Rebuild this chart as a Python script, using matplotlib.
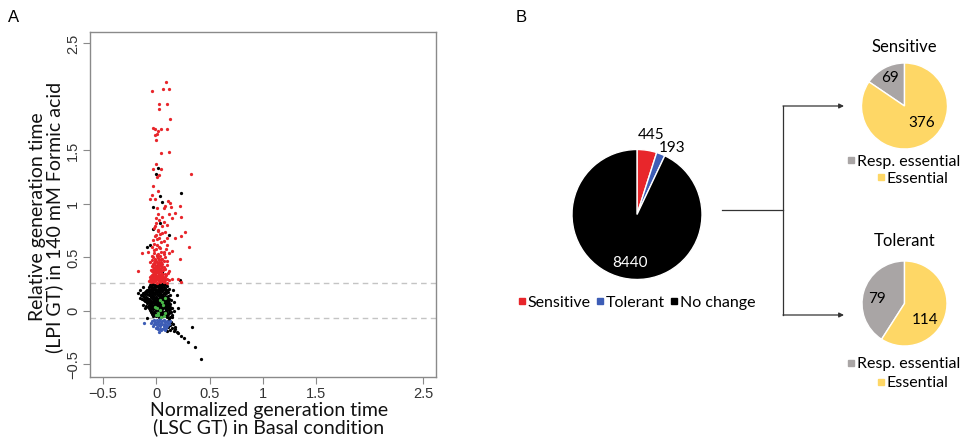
import numpy as np
import matplotlib
matplotlib.use("Agg")
import matplotlib.pyplot as plt
from matplotlib.lines import Line2D
from matplotlib.patches import FancyArrowPatch

# ---------------- data ----------------
# Panel A scatter (x: normalized GT basal, y: relative GT formic acid)
black_pts = [
    (-0.03, 0.25), (0.00, 0.245), (0.03, 0.255), (0.06, 0.25), (-0.06, 0.24), (0.09, 0.255),
    (-0.05, 0.23), (-0.02, 0.225), (0.01, 0.235), (0.04, 0.23), (0.07, 0.225), (0.10, 0.235),
    (-0.07, 0.21), (-0.04, 0.215), (-0.01, 0.205), (0.02, 0.21), (0.05, 0.215), (0.08, 0.205), (0.12, 0.21),
    (-0.09, 0.19), (-0.06, 0.185), (-0.03, 0.195), (0.00, 0.19), (0.03, 0.185), (0.06, 0.195), (0.09, 0.19),
    (-0.12, 0.17), (-0.08, 0.175), (-0.05, 0.165), (-0.02, 0.17), (0.01, 0.175), (0.04, 0.165), (0.07, 0.17), (0.11, 0.175),
    (-0.14, 0.15), (-0.10, 0.155), (-0.07, 0.145), (-0.04, 0.15), (-0.01, 0.155), (0.02, 0.145), (0.05, 0.15), (0.08, 0.155), (0.13, 0.145),
    (-0.11, 0.13), (-0.08, 0.125), (-0.05, 0.135), (-0.02, 0.13), (0.01, 0.125), (0.04, 0.135), (0.07, 0.13), (0.10, 0.125),
    (-0.13, 0.11), (-0.09, 0.115), (-0.06, 0.105), (-0.03, 0.11), (0.00, 0.115), (0.03, 0.105), (0.06, 0.11), (0.09, 0.115), (0.14, 0.105),
    (-0.10, 0.09), (-0.07, 0.095), (-0.04, 0.085), (-0.01, 0.09), (0.02, 0.095), (0.05, 0.085), (0.08, 0.09), (0.11, 0.095),
    (-0.08, 0.07), (-0.05, 0.065), (-0.02, 0.075), (0.01, 0.07), (0.04, 0.065), (0.07, 0.075), (0.10, 0.07), (0.13, 0.065),
    (-0.09, 0.05), (-0.06, 0.055), (-0.03, 0.045), (0.00, 0.05), (0.03, 0.055), (0.06, 0.045), (0.09, 0.05), (0.12, 0.055),
    (-0.07, 0.03), (-0.04, 0.025), (-0.01, 0.035), (0.02, 0.03), (0.05, 0.025), (0.08, 0.035), (0.11, 0.03), (0.15, 0.025),
    (-0.06, 0.01), (-0.03, 0.015), (0.00, 0.005), (0.03, 0.01), (0.06, 0.015), (0.09, 0.005), (0.12, 0.01),
    (-0.05, -0.01), (-0.02, -0.005), (0.01, -0.015), (0.04, -0.01), (0.07, -0.005), (0.10, -0.015), (0.14, -0.01),
    (-0.04, -0.03), (-0.01, -0.035), (0.02, -0.025), (0.05, -0.03), (0.08, -0.035), (0.11, -0.025),
    (-0.03, -0.05), (0.00, -0.045), (0.03, -0.055), (0.06, -0.05), (0.09, -0.045), (0.13, -0.055),
    (-0.045, 0.24), (-0.015, 0.245), (0.015, 0.24), (0.045, 0.235), (0.075, 0.245),
    (-0.065, 0.22), (-0.035, 0.215), (-0.005, 0.225), (0.025, 0.22), (0.055, 0.225), (0.085, 0.215),
    (-0.08, 0.20), (-0.05, 0.195), (-0.02, 0.205), (0.01, 0.20), (0.04, 0.195), (0.07, 0.205), (0.10, 0.20),
    (-0.10, 0.18), (-0.065, 0.185), (-0.035, 0.175), (-0.005, 0.18), (0.025, 0.175), (0.055, 0.185), (0.085, 0.18),
    (-0.12, 0.16), (-0.085, 0.155), (-0.055, 0.165), (-0.025, 0.16), (0.005, 0.155), (0.035, 0.165), (0.065, 0.16), (0.095, 0.165),
    (-0.125, 0.14), (-0.09, 0.135), (-0.06, 0.145), (-0.03, 0.14), (0.00, 0.135), (0.03, 0.145), (0.06, 0.14), (0.09, 0.135), (0.115, 0.14),
    (-0.095, 0.12), (-0.065, 0.115), (-0.035, 0.125), (-0.005, 0.12), (0.025, 0.115), (0.055, 0.125), (0.085, 0.12), (0.12, 0.115),
    (-0.115, 0.10), (-0.08, 0.105), (-0.05, 0.095), (-0.02, 0.10), (0.01, 0.105), (0.04, 0.095), (0.07, 0.10), (0.10, 0.105),
    (-0.085, 0.08), (-0.055, 0.075), (-0.025, 0.085), (0.005, 0.08), (0.035, 0.075), (0.065, 0.085), (0.095, 0.08), (0.125, 0.075),
    (-0.07, 0.06), (-0.04, 0.055), (-0.01, 0.065), (0.02, 0.06), (0.05, 0.055), (0.08, 0.065), (0.11, 0.06),
    (-0.075, 0.04), (-0.045, 0.035), (-0.015, 0.045), (0.015, 0.04), (0.045, 0.035), (0.075, 0.045), (0.105, 0.04), (0.135, 0.035),
    (-0.055, 0.02), (-0.025, 0.025), (0.005, 0.015), (0.035, 0.02), (0.065, 0.025), (0.095, 0.015), (0.13, 0.02),
    (-0.045, 0.00), (-0.015, -0.005), (0.015, 0.005), (0.045, 0.00), (0.075, -0.005), (0.105, 0.005),
    (-0.035, -0.02), (-0.005, -0.025), (0.025, -0.015), (0.055, -0.02), (0.085, -0.025), (0.12, -0.015),
    (-0.02, -0.04), (0.01, -0.035), (0.04, -0.045), (0.07, -0.04), (0.10, -0.035),
    (0.10, -0.06), (0.12, -0.065), (0.15, -0.06),
    (0.12, -0.08), (0.14, -0.10), (0.13, -0.13), (0.16, -0.12), (0.11, -0.15), (0.15, -0.16),
    (0.18, -0.15), (0.13, -0.18), (0.17, -0.19), (0.10, -0.19), (0.20, -0.20), (0.18, -0.17),
    (0.21, -0.21), (0.23, -0.23), (0.26, -0.255), (0.30, -0.29), (0.36, -0.34), (0.42, -0.45),
    (0.34, -0.147), (-0.08, -0.07), (0.20, 0.15), (0.21, 0.03), (0.22, 0.29), (0.17, 0.08),
    (0.16, 0.20), (-0.15, 0.12), (-0.17, 0.17), (-0.15, 0.20), (-0.12, 0.22), (-0.10, 0.03),
    (-0.12, 0.06), (0.15, -0.04), (0.17, 0.00), (0.23, 1.10), (0.016, 1.34), (0.00, 1.28),
    (0.037, 1.07), (0.053, 1.02), (-0.025, 0.975), (0.037, 0.82), (-0.025, 0.77), (0.125, 0.71),
    (-0.056, 0.62), (-0.085, 0.60), (0.02, 0.44), (0.06, 0.36),
]
red_pts = [
    (0.093, 2.14), (-0.04, 2.06), (0.065, 2.07), (0.12, 2.07), (0.028, 1.93), (0.10, 1.93),
    (0.028, 1.89), (0.128, 1.79), (-0.025, 1.71), (-0.01, 1.70), (0.016, 1.68), (0.044, 1.70),
    (0.106, 1.70), (-0.01, 1.64), (0.012, 1.65), (-0.003, 1.60), (0.047, 1.48), (0.118, 1.49),
    (0.00, 1.37), (-0.03, 1.33), (0.047, 1.33), (0.028, 1.27), (0.012, 1.25), (0.33, 1.28),
    (-0.03, 1.17), (-0.04, 1.08), (-0.055, 1.05), (-0.01, 1.05), (0.02, 1.12),
    (0.006, 0.96), (0.07, 0.96), (0.084, 0.985), (0.02, 0.91), (0.053, 0.88), (0.00, 0.87),
    (0.07, 0.835), (0.10, 0.80), (-0.01, 0.79), (0.02, 0.76), (0.053, 0.73), (0.00, 0.71),
    (0.03, 0.68), (-0.025, 0.66), (0.07, 0.65), (0.006, 0.62), (0.037, 0.585), (-0.02, 0.57),
    (0.07, 0.555), (-0.072, 0.555), (-0.13, 0.54), (0.012, 0.52), (-0.04, 0.51), (0.053, 0.49),
    (-0.01, 0.47), (0.10, 0.47), (-0.056, 0.455), (0.03, 0.445),
    (0.227, 0.98), (0.237, 0.88), (0.175, 0.92), (0.11, 1.03), (0.13, 1.01), (0.14, 0.97),
    (0.12, 0.91), (0.147, 0.87), (0.23, 0.70), (0.18, 0.685), (0.27, 0.74), (0.31, 0.60),
    (0.22, 0.49), (0.15, 0.56), (0.105, 0.68), (-0.17, 0.37), (0.125, 0.377), (0.147, 0.30),
    (0.21, 0.30), (0.23, 0.27),
    (0.00, 0.58), (0.03, 0.60), (-0.02, 0.63), (0.05, 0.64), (0.01, 0.67), (-0.01, 0.70),
    (0.04, 0.72), (0.02, 0.75), (-0.02, 0.78), (0.06, 0.79), (0.00, 0.82), (0.03, 0.85),
    (0.08, 0.74), (0.10, 0.62), (-0.04, 0.60), (0.07, 0.53), (0.09, 0.58), (0.12, 0.54),
    (-0.05, 0.27), (-0.02, 0.275), (0.01, 0.265), (0.04, 0.27), (0.07, 0.275), (0.10, 0.265),
    (-0.06, 0.29), (-0.03, 0.295), (0.00, 0.285), (0.03, 0.29), (0.06, 0.295), (0.12, 0.285),
    (-0.04, 0.31), (-0.01, 0.315), (0.02, 0.305), (0.05, 0.31), (0.08, 0.315),
    (-0.05, 0.33), (-0.02, 0.335), (0.01, 0.325), (0.04, 0.33), (0.09, 0.335),
    (-0.03, 0.35), (0.00, 0.355), (0.03, 0.345), (0.06, 0.35), (0.11, 0.355),
    (-0.04, 0.37), (-0.01, 0.375), (0.02, 0.365), (0.05, 0.37),
    (-0.02, 0.39), (0.01, 0.395), (0.04, 0.385), (0.08, 0.39),
    (-0.03, 0.41), (0.00, 0.415), (0.03, 0.405), (0.06, 0.41),
    (-0.01, 0.43), (0.02, 0.435), (0.05, 0.425), (0.10, 0.43),
    (-0.02, 0.45), (0.01, 0.455), (0.04, 0.445),
    (0.00, 0.47), (0.03, 0.475), (0.07, 0.465),
    (-0.01, 0.49), (0.02, 0.495), (0.05, 0.485), (0.01, 0.51), (0.04, 0.515), (-0.03, 0.505),
    (-0.035, 0.28), (-0.005, 0.28), (0.025, 0.28), (0.055, 0.28), (0.085, 0.285), (-0.07, 0.28),
    (-0.045, 0.30), (-0.015, 0.30), (0.015, 0.30), (0.045, 0.30), (0.075, 0.30), (0.10, 0.30),
    (-0.06, 0.32), (-0.03, 0.32), (0.00, 0.32), (0.03, 0.32), (0.065, 0.32),
    (-0.035, 0.34), (-0.005, 0.34), (0.025, 0.34), (0.055, 0.34), (0.08, 0.35),
    (-0.02, 0.36), (0.015, 0.36), (0.045, 0.36), (-0.05, 0.38), (-0.025, 0.38), (0.005, 0.385),
    (0.035, 0.38), (0.065, 0.385), (-0.01, 0.40), (0.02, 0.40), (0.05, 0.40), (-0.04, 0.42),
    (0.015, 0.42), (0.04, 0.425), (0.075, 0.41), (-0.03, 0.44), (0.06, 0.44), (-0.005, 0.46),
    (0.045, 0.46), (-0.035, 0.48), (0.085, 0.50), (0.02, 0.53), (-0.015, 0.54), (0.045, 0.55),
]
blue_pts = [
    (-0.02, -0.08), (0.01, -0.085), (0.04, -0.075), (0.07, -0.08), (0.10, -0.09),
    (-0.01, -0.10), (0.02, -0.105), (0.05, -0.11), (0.08, -0.10), (0.11, -0.11),
    (0.00, -0.12), (0.03, -0.13), (0.06, -0.125), (0.09, -0.13), (0.01, -0.15),
    (0.04, -0.145), (0.07, -0.16), (0.02, -0.17), (0.05, -0.18), (0.03, -0.20),
    (-0.11, -0.11), (0.08, -0.18), (-0.03, -0.14),
    (-0.04, -0.09), (0.13, -0.09), (0.12, -0.12), (-0.015, -0.12), (0.015, -0.125),
    (0.045, -0.125), (0.075, -0.14), (0.105, -0.14), (0.025, -0.095), (0.055, -0.095),
    (0.085, -0.12), (0.00, -0.16), (0.06, -0.165), (0.035, -0.17), (0.09, -0.155), (-0.05, -0.11),
]
green_pts = [
    (-0.01, 0.04), (0.006, 0.025), (0.053, 0.087), (0.037, 0.01), (0.02, -0.037),
    (0.07, -0.047), (0.044, -0.053), (0.084, 0.12), (0.037, 0.10), (0.065, 0.056),
    (0.02, -0.02), (0.00, -0.04), (0.084, -0.02),
]
thresholds = [0.26, -0.065]
x_ticks = [-0.5, 0, 0.5, 1, 1.5, 2.5]
y_ticks = [-0.5, 0, 0.5, 1, 1.5, 2.5]

# Panel B pies
main_labels = ["Sensitive", "Tolerant", "No change"]
main_values = [445, 193, 8440]
sub_labels = ["Resp. essential", "Essential"]
sens_values = [69, 376]
tol_values = [79, 114]

RED, BLUE, BLACK = "#e8262b", "#3d5db6", "#000000"
GRAY, YELLOW, GREEN = "#a9a5a5", "#fed766", "#49b648"

W, H = 970, 440
fig = plt.figure(figsize=(9.7, 4.4), dpi=100)

def box(l, t, w, h):
    return [l / W, 1 - (t + h) / H, w / W, h / H]

def fxy(px, py):
    return px / W, 1 - py / H

LAB = ["Lato", "DejaVu Sans"]
TICK = ["Liberation Sans", "DejaVu Sans"]

# ---------------- Panel A ----------------
ax = fig.add_axes(box(90, 32, 346, 345))
for pts, c in [(black_pts, BLACK), (red_pts, RED), (blue_pts, BLUE), (green_pts, GREEN)]:
    a = np.array(pts)
    ax.scatter(a[:, 0], a[:, 1], s=5.5, c=c, linewidths=0, zorder=3)
for t in thresholds:
    ax.axhline(t, color="#c4c4c4", lw=1, ls=(0, (4, 3)), zorder=1)
ax.set_xlim(-0.617, 2.617)
ax.set_ylim(-0.617, 2.607)
ax.set_xticks(x_ticks)
ax.set_yticks(y_ticks)
ax.set_xticklabels([("%g" % v).replace("-", "\u2212") for v in x_ticks], family=TICK, fontsize=10.5)
ax.set_yticklabels([("%g" % v).replace("-", "\u2212") for v in y_ticks], family=TICK, fontsize=10.5,
                   rotation=90, va="center")
for sp in ax.spines.values():
    sp.set_color("#8a8a8a")
    sp.set_linewidth(1)
ax.tick_params(direction="out", length=5, color="#8a8a8a", labelcolor="#333333", pad=2)

fig.text(*fxy(269, 419), "Normalized generation time\n(LSC GT) in Basal condition",
         ha="center", va="center", fontsize=14, family=LAB, linespacing=1.0, color="#111111")
fig.text(*fxy(46, 217), "Relative generation time\n(LPI GT) in 140 mM Formic acid",
         ha="center", va="center", fontsize=14, family=LAB, linespacing=1.0, rotation=90,
         color="#111111")
fig.text(*fxy(14, 18), "A", ha="center", va="center", fontsize=12, family=TICK)
fig.text(*fxy(521, 18), "B", ha="center", va="center", fontsize=12, family=TICK)

# ---------------- Panel B ----------------
wp = dict(edgecolor="white", linewidth=1)

axm = fig.add_axes(box(572, 149.5, 130, 130))
axm.pie(main_values, colors=[RED, BLUE, BLACK], startangle=90, counterclock=False,
        wedgeprops=wp, radius=1)
axm.set_xlim(-1, 1); axm.set_ylim(-1, 1)
axm.text(0.215, 1.22, str(main_values[0]), ha="center", va="center", fontsize=11, family=LAB)
axm.text(0.54, 1.02, str(main_values[1]), ha="center", va="center", fontsize=11, family=LAB)
axm.text(-0.11, -0.74, str(main_values[2]), ha="center", va="center", fontsize=11, family=LAB,
         color="white")

handles = [Line2D([], [], marker="s", ls="", color=c, markersize=4.5) for c in [RED, BLUE, BLACK]]
fig.legend(handles, main_labels, loc="center", bbox_to_anchor=fxy(637, 303), ncol=3,
           frameon=False, handlelength=0.45, handletextpad=0.15, columnspacing=0.35,
           prop=dict(family=LAB, size=11.5), borderpad=0, borderaxespad=0)

def sub_pie(l, t, d, vals, title, lab_pos, title_y, leg_pos):
    a = fig.add_axes(box(l, t, d, d))
    a.pie(vals, colors=[GRAY, YELLOW], startangle=90, counterclock=True, wedgeprops=wp)
    a.set_xlim(-1, 1); a.set_ylim(-1, 1)
    for v, (x, y) in zip(vals, lab_pos):
        a.text(x, y, str(v), ha="center", va="center", fontsize=11, family=LAB)
    cx = l + d / 2
    fig.text(*fxy(cx, title_y), title, ha="center", va="center", fontsize=12, family=LAB)
    for (lab, c), (lx, ly) in zip(zip(sub_labels, [GRAY, YELLOW]), leg_pos):
        h = [Line2D([], [], marker="s", ls="", color=c, markersize=4.5)]
        fig.legend(h, [lab], loc="center", bbox_to_anchor=fxy(lx, ly), frameon=False,
                   handlelength=0.45, handletextpad=0.15, prop=dict(family=LAB, size=11.5),
                   borderpad=0, borderaxespad=0)

sub_pie(861.5, 63, 86, sens_values, "Sensitive", [(-0.34, 0.65), (0.41, -0.40)], 47,
        [(904, 162), (913, 179)])
sub_pie(862, 261, 85, tol_values, "Tolerant", [(-0.65, 0.11), (0.48, -0.39)], 241,
        [(904, 364), (913, 383)])

# connector arrows
lc = "#333333"
fig.add_artist(Line2D([722 / W, 783 / W], [1 - 210 / H, 1 - 210 / H], color=lc, lw=0.9))
fig.add_artist(Line2D([783 / W, 783 / W], [1 - 106 / H, 1 - 315 / H], color=lc, lw=0.9))
for yy in (106, 315):
    fig.add_artist(FancyArrowPatch(
        fxy(783, yy), fxy(844, yy), transform=fig.transFigure, arrowstyle="-|>",
        mutation_scale=7, color=lc, lw=0.9, shrinkA=0, shrinkB=0))

fig.savefig("out.png", dpi=100)
